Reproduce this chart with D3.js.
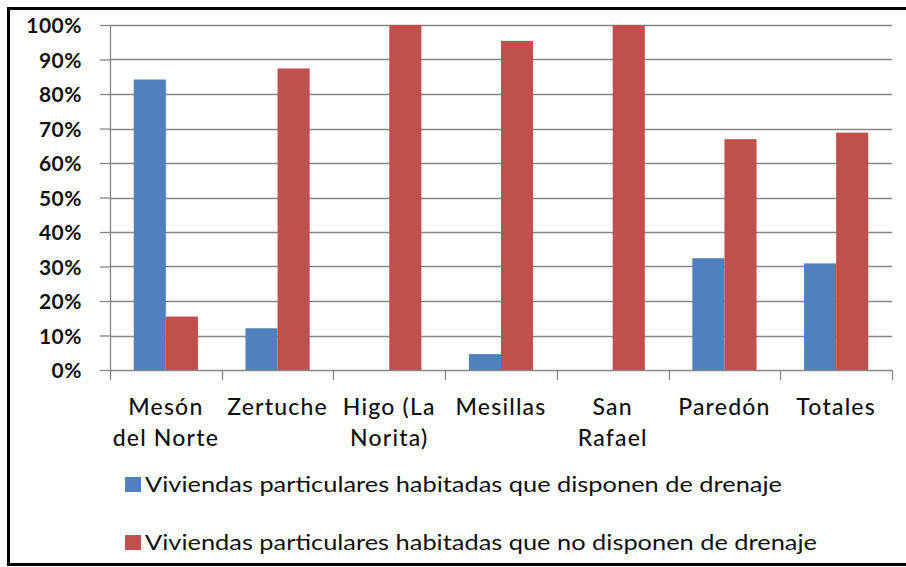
<!DOCTYPE html>
<html>
<head>
<meta charset="utf-8">
<script src="https://cdn.jsdelivr.net/npm/d3@7"></script>
<style>
  body { margin: 0; background: #fff; }
  svg { display: block; }
</style>
</head>
<body>
<script>
// data
var categories = [["Mesón", "del Norte"], ["Zertuche"], ["Higo (La", "Norita)"], ["Mesillas"], ["San", "Rafael"], ["Paredón"], ["Totales"]];
var conDrenaje = [84.2, 12.1, 0, 4.6, 0, 32.4, 30.9];
var sinDrenaje = [15.5, 87.4, 100, 95.4, 100, 66.9, 68.8];
var yTicks = [0, 10, 20, 30, 40, 50, 60, 70, 80, 90, 100];
var seriesNames = ["Viviendas particulares habitadas que disponen de drenaje",
                   "Viviendas particulares habitadas que no disponen de drenaje"];
var colors = ["#4F81BD", "#C0504D"];

var W = 906, H = 567;
var margin = { top: 25, right: 14, bottom: 197, left: 110 },
    width = 892 - margin.left,
    height = 370 - margin.top;

var svg = d3.select("body").append("svg")
    .attr("width", W)
    .attr("height", H);

// outer frame
svg.append("rect")
    .attr("x", 8.5).attr("y", 8.5)
    .attr("width", 910).attr("height", 556)
    .attr("fill", "none")
    .attr("stroke", "#000")
    .attr("stroke-width", 3);

var g = svg.append("g")
    .attr("transform", "translate(" + margin.left + "," + margin.top + ")");

var idx = d3.range(categories.length);
var x0 = d3.scaleBand().domain(idx).range([0, width]).padding(0);
var x1 = d3.scaleBand().domain([0, 1]).range([0, x0.bandwidth()]).paddingInner(0).paddingOuter(0.74);
var y = d3.scaleLinear().domain([0, 100]).range([height, 0]);

// gridlines
g.selectAll(".grid")
    .data(yTicks.slice(1))
    .enter().append("line")
    .attr("x1", 0).attr("x2", width)
    .attr("y1", function (d) { return Math.round(y(d)) + 0.5; })
    .attr("y2", function (d) { return Math.round(y(d)) + 0.5; })
    .attr("stroke", "#868686")
    .attr("stroke-width", 1.3);

// bars
var series = [conDrenaje, sinDrenaje];
series.forEach(function (vals, s) {
    g.selectAll(".bar" + s)
        .data(vals)
        .enter().append("rect")
        .attr("x", function (d, i) { return x0(i) + x1(s); })
        .attr("width", x1.bandwidth())
        .attr("y", function (d) { return y(d); })
        .attr("height", function (d) { return height - y(d); })
        .attr("fill", colors[s]);
});

// y axis
var yAxis = d3.axisLeft(y)
    .tickValues(yTicks)
    .tickSize(10)
    .tickPadding(18)
    .tickFormat(function (d) { return d + "%"; });

var ya = g.append("g").call(yAxis);
ya.select(".domain").attr("stroke", "#868686").attr("stroke-width", 1.3).attr("d", "M0.5,0V" + height);
ya.selectAll(".tick line").attr("stroke", "#868686").attr("stroke-width", 1.3);
ya.selectAll(".tick text")
    .attr("fill", "#111")
    .style("font-family", "Lato, 'Open Sans', sans-serif")
    .style("font-weight", "bold")
    .style("font-size", "21px")
    .style("letter-spacing", "0.5px")
    .attr("dy", "0.36em");

// x axis
var xa = g.append("g").attr("transform", "translate(0," + height + ")");
xa.append("line")
    .attr("x1", 0).attr("x2", width)
    .attr("y1", 0.5).attr("y2", 0.5)
    .attr("stroke", "#868686").attr("stroke-width", 1.3);
xa.selectAll(".xtick")
    .data(d3.range(categories.length + 1))
    .enter().append("line")
    .attr("x1", function (d) { return Math.round(d * x0.step()) + 0.5; })
    .attr("x2", function (d) { return Math.round(d * x0.step()) + 0.5; })
    .attr("y1", 0).attr("y2", 10)
    .attr("stroke", "#868686").attr("stroke-width", 1.3);

var labels = xa.selectAll(".xlab")
    .data(categories)
    .enter().append("text")
    .attr("text-anchor", "middle")
    .attr("x", function (d, i) { return x0(i) + x0.bandwidth() / 2; })
    .attr("y", 45)
    .attr("fill", "#111")
    .style("font-family", "Lato, 'Open Sans', sans-serif")
    .style("font-weight", "500")
    .style("font-size", "23px")
    .style("letter-spacing", "1.2px");
labels.selectAll("tspan")
    .data(function (d) { return d; })
    .enter().append("tspan")
    .attr("x", function () { return d3.select(this.parentNode).attr("x"); })
    .attr("dy", function (d, j) { return j === 0 ? 0 : 31; })
    .text(function (d) { return d; });

// legend
var legW = [637, 672];
var leg = svg.selectAll(".legend")
    .data(seriesNames)
    .enter().append("g")
    .attr("transform", function (d, i) { return "translate(125," + (477 + i * 58) + ")"; });
leg.append("rect")
    .attr("width", 16).attr("height", 15)
    .attr("fill", function (d, i) { return colors[i]; });
leg.append("text")
    .attr("x", 20)
    .attr("y", 15)
    .attr("fill", "#111")
    .attr("textLength", function (d, i) { return legW[i]; })
    .attr("lengthAdjust", "spacingAndGlyphs")
    .style("font-family", "Lato, 'Open Sans', sans-serif")
    .style("font-size", "22px")
    .text(function (d) { return d; });
</script>
</body>
</html>
